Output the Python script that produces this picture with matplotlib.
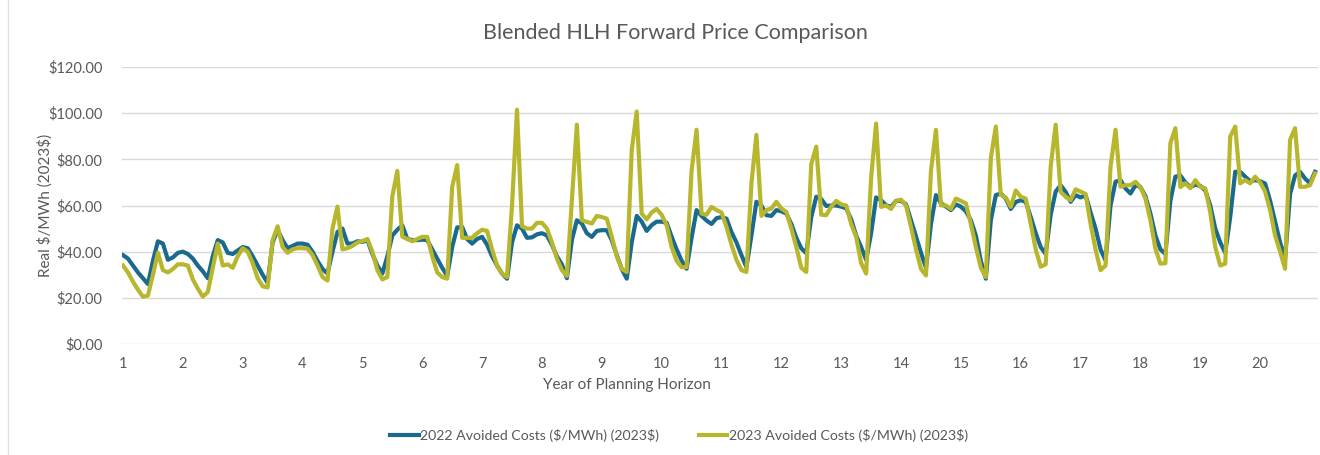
import numpy as np
import matplotlib
matplotlib.use('Agg')
import matplotlib.pyplot as plt
from matplotlib.lines import Line2D

plt.rcParams['font.family'] = ['Lato', 'DejaVu Sans']

# monthly prices, one row per planning year (Jan..Dec)
avoided_2022 = [
    [38.5, 37, 34, 31, 28.5, 26, 36, 44.5, 43.5, 36.5, 37.5, 39.5],
    [40, 39, 37, 34, 31.5, 28.5, 38, 45, 44, 39.5, 39, 40.5],
    [42, 41.5, 38, 34, 30, 26.5, 44, 49.5, 45, 41.5, 42.5, 43.5],
    [43.5, 43, 40, 36, 32.5, 30.5, 40, 48.5, 50, 43.5, 43.5, 44.5],
    [44.2, 45, 39, 34, 30.5, 38, 47, 49.5, 51.4, 45.5, 45, 45],
    [45.2, 45, 41, 37, 33, 29.5, 42, 50.5, 50.7, 45.5, 43.5, 45.5],
    [46.4, 43, 38, 34, 30.5, 28.3, 44, 51.4, 50, 46, 46.2, 47.5],
    [48, 47, 43, 38, 34.5, 28.5, 45, 53.6, 52.2, 48, 46.4, 49],
    [49.3, 49.3, 45, 38.5, 32.5, 28.3, 44, 55.5, 53, 49, 51.5, 53],
    [53, 52.5, 46.5, 41, 36.2, 32.6, 46, 58, 55.5, 53.5, 52, 54.5],
    [55, 54.3, 48.5, 44, 38.5, 33.3, 47, 61.6, 60, 55.8, 55.5, 58],
    [57.5, 56.5, 52, 46, 41.5, 39.3, 55, 63.8, 62.8, 59.8, 60, 60],
    [59.5, 58.8, 54, 47, 42, 36.5, 48, 63.5, 62.3, 60.1, 59.4, 62],
    [62, 60.5, 53.6, 46.5, 39.5, 33, 52, 64.5, 61, 59.5, 58, 60.5],
    [59.5, 57.5, 53.6, 47, 36, 28.3, 53.6, 64.5, 65.2, 63, 58.5, 61.5],
    [62.3, 61.6, 55, 48, 42, 39, 56, 66, 68.8, 65.9, 61.6, 64.5],
    [63.5, 64.5, 57, 50, 41, 36.2, 60, 70.3, 71, 67.4, 65.2, 68.8],
    [68, 64, 56.5, 47, 41, 39, 62, 72.5, 73, 70, 68, 69],
    [68.5, 66.5, 60, 50, 44, 39.5, 55, 74.6, 74.6, 72.5, 70.5, 71],
    [70.5, 69.5, 62, 53, 44, 37, 65, 73, 74.6, 71.7, 69.6, 74.6],
]

avoided_2023 = [
    [34, 31, 27, 23.5, 20.5, 21, 30, 39.5, 32, 31, 32.5, 34.5],
    [34.5, 34, 28, 24, 20.5, 22.5, 33, 43.5, 34, 34.5, 33, 38],
    [41.5, 40, 35, 28.5, 25, 24.5, 45, 51, 42, 39.5, 41, 41.5],
    [41.5, 41.3, 38.5, 34, 29, 27.5, 50, 59.5, 41, 41.5, 42.5, 44],
    [44.5, 45.5, 40, 32, 28, 29, 64, 75, 46.5, 45.5, 44.5, 45.5],
    [46.4, 46.4, 38, 31, 29, 28.3, 68, 77.5, 46, 46, 46, 48],
    [49.5, 49, 41, 34, 30.5, 29, 60, 101.5, 51, 50, 50, 52.5],
    [52.5, 50, 44, 37, 32, 29.5, 62, 95, 53.6, 52.9, 52.2, 55.5],
    [55, 54.3, 46.5, 38, 32.5, 31.2, 84, 100.7, 56.5, 54, 57, 58.5],
    [56, 51.5, 42, 36, 33.3, 33.3, 75, 92.8, 56.5, 56, 59.4, 58],
    [57, 50.7, 43, 36.5, 32, 31.2, 69.6, 90.6, 55.5, 58, 58.7, 61.6],
    [58.7, 57.2, 50, 42, 33, 31.2, 78, 85.5, 56, 55.8, 59.5, 62],
    [60.5, 60, 52, 46.4, 35, 30.5, 72, 95.5, 59.4, 60, 58.5, 62],
    [62.5, 60, 50.7, 41, 32.5, 29.7, 75, 92.8, 60.1, 60, 58.5, 63],
    [62, 60.9, 52, 42, 33, 29, 80.4, 94.2, 64.5, 63.5, 59.4, 66.5],
    [63.8, 63, 52, 41, 33.5, 34.5, 76.8, 95, 65.9, 63.8, 62.3, 67],
    [66, 65, 52, 41, 32, 34, 76.8, 92.8, 68.1, 68.8, 68.8, 70.3],
    [68, 63, 53.6, 41.3, 34.8, 35, 87, 93.5, 68, 69.6, 67.5, 71],
    [68.1, 67.4, 57, 42, 34, 34.8, 89.9, 94.2, 69.6, 71, 69.6, 72.5],
    [70, 66, 58, 47, 40, 32.6, 88.4, 93.5, 68.1, 68.1, 68.8, 73.9],
]

years = [str(y) for y in range(1, 21)]
y_ticks = [0, 20, 40, 60, 80, 100, 120]

s2022 = np.array(avoided_2022).ravel()
s2023 = np.array(avoided_2023).ravel()
x = np.arange(len(s2022))

blue = '#1a6a90'
olive = '#b8b62c'
grey = '#595959'

fig = plt.figure(figsize=(13.2, 4.55), dpi=100)
ax = fig.add_axes([122 / 1320, 1 - 344 / 455, 1196 / 1320, 277 / 455])

ax.plot(x, s2022, color=blue, lw=3, solid_joinstyle='round',
        label=r'2022 Avoided Costs (\$/MWh) (2023\$)', zorder=3)
ax.plot(x, s2023, color=olive, lw=3, solid_joinstyle='round',
        label=r'2023 Avoided Costs (\$/MWh) (2023\$)', zorder=4)

ax.set_ylim(0, 120)
ax.set_xlim(-0.2, 239.6)
ax.set_yticks(y_ticks)
ax.set_yticklabels([r'\${:.2f}'.format(v) for v in y_ticks])
ax.set_xticks(np.arange(0, 240, 12))
ax.set_xticklabels(years)
ax.yaxis.grid(True, color='#d9d9d9', lw=1)
ax.set_axisbelow(True)
for s in ax.spines.values():
    s.set_visible(False)
ax.tick_params(axis='both', length=0, colors=grey, labelsize=10.5)
ax.tick_params(axis='y', pad=14)
ax.tick_params(axis='x', pad=9)

fig.text(675 / 1320, 1 - 33 / 455, 'Blended HLH Forward Price Comparison',
         ha='center', va='center', fontsize=15.5, color=grey)
fig.text(627 / 1320, 1 - 385 / 455, 'Year of Planning Horizon',
         ha='center', va='center', fontsize=11, color=grey)
fig.text(45 / 1320, 1 - 205 / 455, r'Real \$/MWh (2023\$)', rotation=90,
         ha='center', va='center', fontsize=11, color=grey)

fig.legend(loc='center', bbox_to_anchor=(679 / 1320, 1 - 435 / 455), ncol=2,
           frameon=False, fontsize=10.2, labelcolor=grey, handlelength=2.0,
           handletextpad=0.1, columnspacing=2.8)

# faint page border on the left
fig.add_artist(Line2D([8 / 1320, 8 / 1320], [0, 1], color='#e0e0e0', lw=1))

fig.savefig('out.png', dpi=100)
